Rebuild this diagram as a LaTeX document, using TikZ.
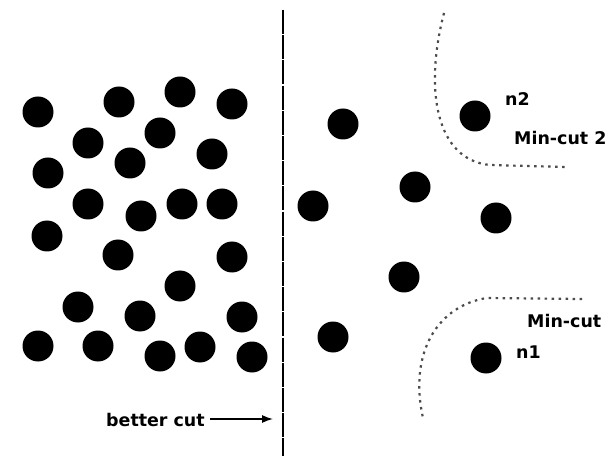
\documentclass[tikz,border=0pt]{standalone}
\usepackage{fontspec}
\setmainfont{DejaVu Sans}
\usetikzlibrary{arrows.meta}
\tikzset{
  dot/.style={circle,fill=black,draw=none,minimum size=31bp,inner sep=0pt},
  lbl/.style={font=\bfseries\fontsize{17.5}{17.5}\selectfont,inner sep=0pt,anchor=west},
  cutline/.style={line width=2.8bp,dash pattern=on 24bp off 1.2bp},
  mincut/.style={line width=2.2bp,gray!60!black,dash pattern=on 2.5bp off 4.5bp},
}
\begin{document}
\begin{tikzpicture}[x=1bp,y=-1bp]
\clip (0,0) rectangle (608,456);
\fill[white] (0,0) rectangle (608,456);
% left dots
\node[dot] (l1) at (38,112) {};
\node[dot] (l2) at (119,102) {};
\node[dot] (l3) at (180,92) {};
\node[dot] (l4) at (232,104) {};
\node[dot] (l5) at (88,143) {};
\node[dot] (l6) at (160,133) {};
\node[dot] (l7) at (212,154) {};
\node[dot] (l8) at (48,173) {};
\node[dot] (l9) at (130,163) {};
\node[dot] (l10) at (88,204) {};
\node[dot] (l11) at (141,216) {};
\node[dot] (l12) at (182,204) {};
\node[dot] (l13) at (222,204) {};
\node[dot] (l14) at (47,236) {};
\node[dot] (l15) at (118,255) {};
\node[dot] (l16) at (232,257) {};
\node[dot] (l17) at (180,286) {};
\node[dot] (l18) at (78,307) {};
\node[dot] (l19) at (140,316) {};
\node[dot] (l20) at (242,317) {};
\node[dot] (l21) at (38,346) {};
\node[dot] (l22) at (98,346) {};
\node[dot] (l23) at (160,356) {};
\node[dot] (l24) at (200,347) {};
\node[dot] (l25) at (252,357) {};
% right dots
\node[dot] (r1) at (343,124) {};
\node[dot] (r2) at (415,187) {};
\node[dot] (r3) at (313,206) {};
\node[dot] (r4) at (496,218) {};
\node[dot] (r5) at (404,277) {};
\node[dot] (r6) at (333,337) {};
\node[dot] (n2) at (475,116) {};
\node[dot] (n1) at (486,358) {};
% labels
\node[lbl] (n2lbl) at (505,99) {n2};
\node[lbl] (mc2) at (514,138) {Min-cut 2};
\node[lbl] (mc1) at (527,321) {Min-cut};
\node[lbl] (n1lbl) at (516,352) {n1};
% vertical cut
\coordinate (vtop) at (283,10);
\coordinate (vbot) at (283,456);
\draw[cutline] (vtop) -- (vbot);
% better cut
\node[lbl] (better) at (106,420) {better cut};
\coordinate (arrtail) at (210,419);
\coordinate (arrtip) at (273,419);
\draw[line width=1.3bp,-{Latex[length=11bp,width=8bp]}] (arrtail) -- (arrtip);
% min-cut curves
\coordinate (c2a) at (444,13);
\coordinate (c2b) at (490,165);
\coordinate (c2c) at (566,167);
\draw[mincut] (c2a) .. controls (424,90) and (436,160) .. (c2b) -- (c2c);
\coordinate (c1a) at (582,299);
\coordinate (c1b) at (487,298);
\coordinate (c1c) at (423,418);
\draw[mincut] (c1a) -- (c1b) .. controls (440,305) and (408,350) .. (c1c);
\end{tikzpicture}
\end{document}
